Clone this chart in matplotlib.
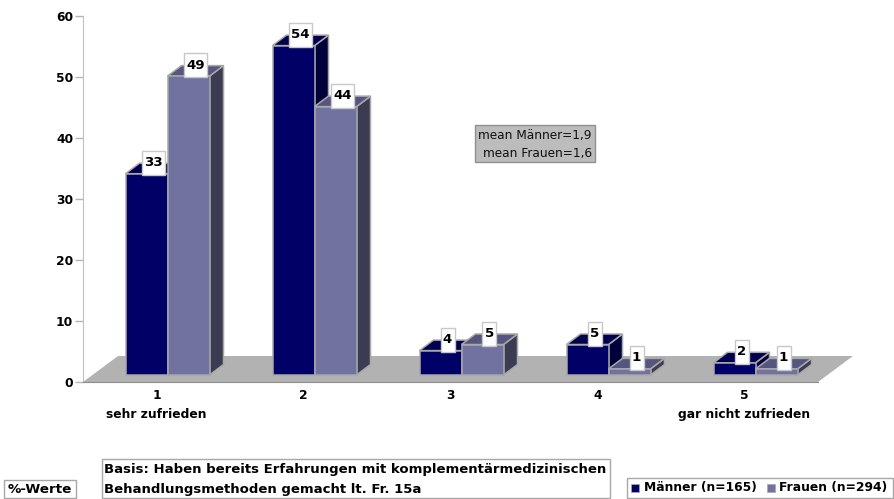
import matplotlib
matplotlib.use("Agg")
import matplotlib.pyplot as plt
from matplotlib.patches import Polygon, Rectangle

categories = ["1\nsehr zufrieden", "2", "3", "4", "5\ngar nicht zufrieden"]
maenner = [33, 54, 4, 5, 2]
frauen = [49, 44, 5, 1, 1]
y_ticks = [0, 10, 20, 30, 40, 50, 60]
mean_lines = ["mean Männer=1,9", "mean Frauen=1,6"]
basis_lines = ["Basis: Haben bereits Erfahrungen mit komplementärmedizinischen",
               "Behandlungsmethoden gemacht lt. Fr. 15a"]
legend_labels = ["Männer (n=165)", "Frauen (n=294)"]

W, H = 894, 499
FONT = "DejaVu Sans"
EDGE = "#a8a8a8"
MEN = ("#000066", "#00004f", "#00003a")
WOMEN = ("#7272a1", "#55557f", "#3b3b52")

# one pixel in data units of the main axes
PX = 1 / 147
PY = 1 / 6.1
BAR_W = 42 * PX
DEPTH_X = 14 * PX
DEPTH_Y = 10.5 * PY
BASE_Y = 7 * PY
SHIFT_X = 11 * PX


def draw_bar(ax, x0, value, colors):
    x1 = x0 + BAR_W
    y0 = BASE_Y
    y1 = BASE_Y + value
    side = [(x1, y0), (x1 + DEPTH_X, y0 + DEPTH_Y), (x1 + DEPTH_X, y1 + DEPTH_Y), (x1, y1)]
    top = [(x0, y1), (x0 + DEPTH_X, y1 + DEPTH_Y), (x1 + DEPTH_X, y1 + DEPTH_Y), (x1, y1)]
    ax.add_patch(Polygon(side, fc=colors[2], ec=EDGE, lw=1.1, zorder=3))
    ax.add_patch(Polygon(top, fc=colors[1], ec=EDGE, lw=1.1, zorder=3))
    ax.add_patch(Rectangle((x0, y0), BAR_W, value, fc=colors[0], ec=EDGE, lw=1.1, zorder=3))


def value_label(ax, x0, value):
    text = str(value)
    cx = x0 + BAR_W / 2 + 7 * PX
    cy = BASE_Y + value + 11 * PY
    w = (23 if len(text) == 2 else 14) * PX
    h = 24 * PY
    ax.add_patch(Rectangle((cx - w / 2, cy - h / 2), w, h, fc="white", ec="#c8c8c8", lw=1, zorder=5, clip_on=False))
    ax.text(cx, cy, text, ha="center", va="center", fontsize=9.6, fontweight="bold", family=FONT,
            color="black", zorder=6)


fig = plt.figure(figsize=(W / 100, H / 100), dpi=100, facecolor="white")
ax = fig.add_axes([83 / W, (H - 382) / H, 735 / W, 366 / H])
ax.set_xlim(0.5, 5.5)
ax.set_ylim(0, 60)

floor = [(0.5, 0), (0.5 + 35 * PX, 26 * PY), (5.5 + 35 * PX, 26 * PY), (5.5, 0)]
ax.add_patch(Polygon(floor, fc="#b2b2b2", ec="none", zorder=1, clip_on=False))

for i in range(len(categories)):
    center = i + 1 + SHIFT_X
    draw_bar(ax, center - BAR_W, maenner[i], MEN)
    draw_bar(ax, center, frauen[i], WOMEN)
for i in range(len(categories)):
    center = i + 1 + SHIFT_X
    value_label(ax, center - BAR_W, maenner[i])
    value_label(ax, center, frauen[i])

ax.set_xticks(range(1, 6))
ax.set_xticklabels(categories, fontsize=8.8, fontweight="bold", family=FONT, linespacing=1.6)
ax.set_yticks(y_ticks)
ax.set_yticklabels([str(t) for t in y_ticks], fontsize=8.8, fontweight="bold", family=FONT)
ax.tick_params(axis="x", length=0, pad=5)
ax.tick_params(axis="y", length=6, width=1, color="#b4b4b4", pad=1)
ax.patch.set_visible(False)
for name in ["top", "right"]:
    ax.spines[name].set_visible(False)
ax.spines["left"].set_color("#c0c0c0")
ax.spines["bottom"].set_color("#8c8c8c")

# boxes around the plot, placed in pixel coordinates
over = fig.add_axes([0, 0, 1, 1])
over.set_xlim(0, W)
over.set_ylim(H, 0)
over.axis("off")


def box(x0, y0, x1, y1, fc="white", ec="#a8a8a8"):
    over.add_patch(Rectangle((x0, y0), x1 - x0, y1 - y0, fc=fc, ec=ec, lw=1))


box(475, 124.5, 594.5, 162, fc="#bcbcbc", ec="#909090")
over.text(592, 135, mean_lines[0], ha="right", va="center", fontsize=8.7, family=FONT, color="#111111")
over.text(592, 153, mean_lines[1], ha="right", va="center", fontsize=8.7, family=FONT, color="#111111")

box(3.5, 479.5, 76, 498)
over.text(40, 489.5, "%-Werte", ha="center", va="center", fontsize=9.7, fontweight="bold", family=FONT)

box(101.5, 458.5, 610, 498)
over.text(104, 470, basis_lines[0], ha="left", va="center", fontsize=9.5, fontweight="bold", family=FONT)
over.text(104, 489, basis_lines[1], ha="left", va="center", fontsize=9.5, fontweight="bold", family=FONT)

box(626.5, 477.5, 893, 498)
over.add_patch(Rectangle((631, 484), 8, 8, fc=MEN[0], ec="#a8a8a8", lw=0.5))
over.text(644, 488, legend_labels[0], ha="left", va="center", fontsize=8.9, fontweight="bold", family=FONT)
over.add_patch(Rectangle((767, 484), 8, 8, fc=WOMEN[0], ec="#a8a8a8", lw=0.5))
over.text(779, 488, legend_labels[1], ha="left", va="center", fontsize=8.9, fontweight="bold", family=FONT)

fig.savefig("out.png", dpi=100)
